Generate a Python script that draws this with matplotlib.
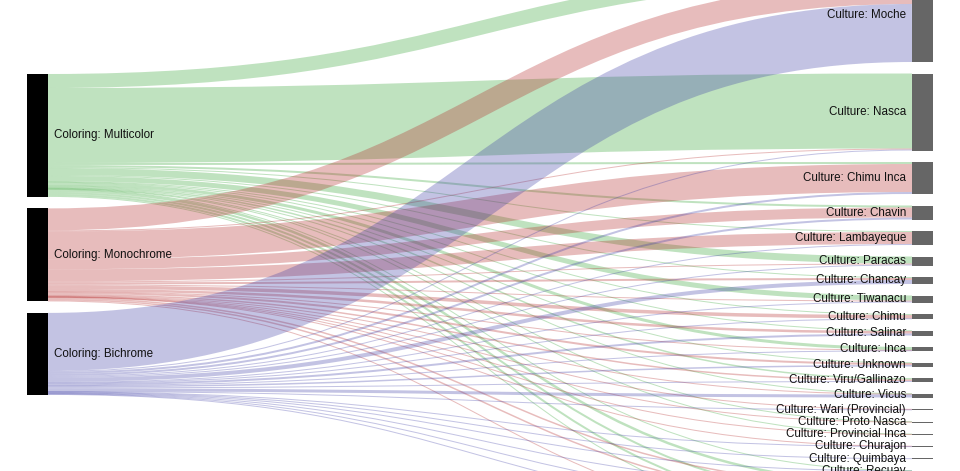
import matplotlib
matplotlib.use("Agg")
import matplotlib.pyplot as plt
from matplotlib.path import Path
from matplotlib.patches import PathPatch, Rectangle
import numpy as np

plt.rcParams['font.family'] = ['Liberation Sans', 'DejaVu Sans']

# ---------------- data ----------------
sources = ["Coloring: Multicolor", "Coloring: Monochrome", "Coloring: Bichrome"]
targets = [
    "Culture: Moche", "Culture: Nasca", "Culture: Chimu Inca", "Culture: Chavin",
    "Culture: Lambayeque", "Culture: Paracas", "Culture: Chancay", "Culture: Tiwanacu",
    "Culture: Chimu", "Culture: Salinar", "Culture: Inca", "Culture: Unknown",
    "Culture: Viru/Gallinazo", "Culture: Vicus", "Culture: Wari (Provincial)",
    "Culture: Proto Nasca", "Culture: Provincial Inca", "Culture: Churajon",
    "Culture: Quimbaya", "Culture: Recuay", "Culture: Lima", "Culture: Cupisnique",
    "Culture: Huari", "Culture: Chincha",
]
multicolor = [14, 75, 2, 2, 1, 7, 1, 5, 1, 0.5, 3, 0.5, 1.5, 0.5, 0,
              0.5, 0.6, 0, 0, 0.3, 2.5, 2.0, 2.0, 1.0]
monochrome = [22, 1, 28, 10, 12, 1, 2, 1, 3.5, 2.5, 0.5, 2, 1.5, 0.5, 0.7,
              0.3, 0.2, 0.3, 0, 0, 1.5, 1.5, 0, 1.0]
bichrome = [58, 1, 2, 2, 1, 1, 4, 1, 0.5, 2, 0.5, 1.5, 1, 3, 0.3,
            0, 0, 0.4, 0.7, 0.4, 0.5, 0.5, 0.5, 0]
link_colors = ["#2ca02c", "#b22222", "#3a3aa5"]

# ---------------- layout ----------------
W, H, DPI = 960, 471, 100
fig = plt.figure(figsize=(W / DPI, H / DPI), dpi=DPI)
ax = fig.add_axes([0, 0, 1, 1])
ax.set_xlim(0, W)
ax.set_ylim(H, 0)
ax.axis('off')

node_w = 21
x_left = 27
x_right = 912
pad = 11.5
left_top = 74.0
right_top = -32.0
fs = 8.4

flows = np.array([multicolor, monochrome, bichrome], dtype=float)
src_tot = flows.sum(axis=1)
tgt_tot = flows.sum(axis=0)

src_y0 = left_top + np.concatenate([[0], np.cumsum(src_tot)[:-1]]) + pad * np.arange(len(sources))
tgt_y0 = right_top + np.concatenate([[0], np.cumsum(tgt_tot)[:-1]]) + pad * np.arange(len(targets))

px_to_pt = 72.0 / DPI
x0 = x_left + node_w
x1 = x_right
xm = (x0 + x1) / 2

# links
for i in range(len(sources)):
    for j in range(len(targets)):
        w = flows[i, j]
        if w <= 0:
            continue
        sy = src_y0[i] + flows[i, :j].sum() + w / 2
        ty = tgt_y0[j] + flows[:i, j].sum() + w / 2
        path = Path([(x0, sy), (xm, sy), (xm, ty), (x1, ty)],
                    [Path.MOVETO, Path.CURVE4, Path.CURVE4, Path.CURVE4])
        ax.add_patch(PathPatch(path, facecolor='none', edgecolor=link_colors[i],
                               alpha=0.3, lw=max(1.0, w) * px_to_pt,
                               capstyle='butt', zorder=1))

# nodes
for i, name in enumerate(sources):
    ax.add_patch(Rectangle((x_left, src_y0[i]), node_w, src_tot[i],
                           facecolor='#000000', edgecolor='none', zorder=2))
    ax.text(x0 + 6, src_y0[i] + src_tot[i] / 2, name, ha='left', va='center',
            fontsize=fs, color='#111111', zorder=3, clip_on=True)
for j, name in enumerate(targets):
    ax.add_patch(Rectangle((x_right, tgt_y0[j]), node_w, max(tgt_tot[j], 1.0),
                           facecolor='#666666', edgecolor='none', zorder=2))
    if tgt_y0[j] < H:  # only nodes inside the visible area get a label
        ax.text(x_right - 6, tgt_y0[j] + tgt_tot[j] / 2, name, ha='right', va='center',
                fontsize=fs, color='#111111', zorder=3, clip_on=True)

fig.savefig("out.png", dpi=DPI)
